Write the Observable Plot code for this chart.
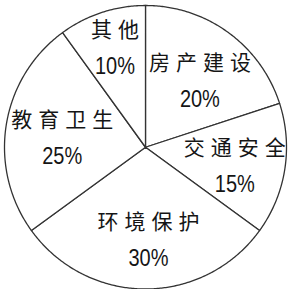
<!DOCTYPE html>
<html><head><meta charset="utf-8">
<script src="https://cdn.jsdelivr.net/npm/d3@7"></script>
<script src="https://cdn.jsdelivr.net/npm/@observablehq/plot@0.6"></script>
<style>html,body{margin:0;padding:0;background:#fff;}</style>
</head><body><div id="chart"></div>
<script>
const categories = ["房产建设", "交通安全", "环境保护", "教育卫生", "其他"];
const percents = [20, 15, 30, 25, 10];
const percentLabels = ["20%", "15%", "30%", "25%", "10%"];

// angles clockwise from 12 o'clock
const slices = d3.pie().sort(null).value(d => d)(percents);
const total = d3.sum(percents);

const outline = [];
slices.forEach((s, i) => {
  outline.push({cat: categories[i], x: 0, y: 0});
  const n = Math.max(2, Math.ceil((s.endAngle - s.startAngle) / 0.01));
  for (let k = 0; k <= n; k++) {
    const a = s.startAngle + (s.endAngle - s.startAngle) * k / n;
    outline.push({cat: categories[i], x: Math.sin(a), y: Math.cos(a)});
  }
  outline.push({cat: categories[i], x: 0, y: 0});
});

const labelData = slices.map((s, i) => {
  const a = (s.startAngle + s.endAngle) / 2;
  const r = percents[i] / total < 0.12 ? 0.77 : 0.62;
  return {name: categories[i], pct: percentLabels[i], x: r * Math.sin(a), y: r * Math.cos(a)};
});

const nameSize = 21, spacing = 6;
const chart = Plot.plot({
  width: 289, height: 289,
  marginLeft: 4, marginRight: 3, marginTop: 5, marginBottom: 0.5,
  x: {domain: [-1, 1], axis: null},
  y: {domain: [-1, 1], axis: null},
  style: {background: "white"},
  marks: [
    Plot.line(outline, {x: "x", y: "y", z: "cat", fill: "white", stroke: "#333", strokeWidth: 1.3}),
    Plot.text(labelData, {x: "x", y: "y", text: "name", dy: -13, dx: 3, fontSize: nameSize,
      fontFamily: "'Noto Sans CJK SC', sans-serif", fill: "#151515"}),
    Plot.text(labelData, {x: "x", y: "y", text: "pct", dy: 23, dx: 3, fontSize: 24,
      fontFamily: "'Liberation Sans', Arial, sans-serif", fill: "#151515"})
  ]
});
d3.select(chart).selectAll("text")
  .filter(function() { return categories.includes(this.textContent); })
  .each(function() {
    const n = this.textContent.length;
    d3.select(this).attr("textLength", n * nameSize + (n - 1) * spacing).attr("lengthAdjust", "spacing");
  });
d3.select(chart).selectAll("text")
  .filter(function() { return percentLabels.includes(this.textContent); })
  .attr("textLength", 40).attr("lengthAdjust", "spacingAndGlyphs");
document.getElementById("chart").appendChild(chart);
</script>
</body></html>
